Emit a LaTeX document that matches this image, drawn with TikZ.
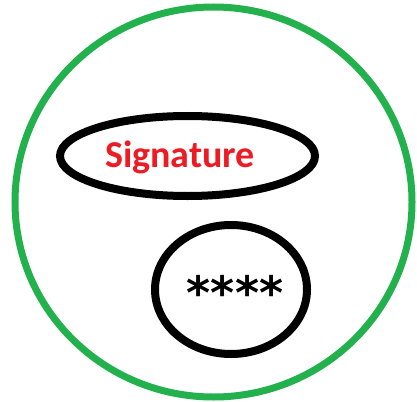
\documentclass[tikz,border=0pt]{standalone}
\usepackage{fontspec}
\setmainfont{Carlito}
\newfontfamily\starfont{DejaVu Sans}
\usetikzlibrary{shapes.geometric}
\definecolor{paintgreen}{RGB}{34,177,76}
\definecolor{paintred}{RGB}{237,28,36}
\begin{document}
\begin{tikzpicture}[x=1pt,y=-1pt,
  ring/.style={ellipse,draw,inner sep=0pt,outer sep=0pt},
  lbl/.style={inner sep=0pt,font=\bfseries}]
\useasboundingbox (0,0) rectangle (417,401);
\node[ring,draw=paintgreen,line width=7pt,minimum width=397pt,minimum height=390pt] (outer) at (213.5,202) {};
\node[ring,draw=black,line width=8pt,minimum width=255pt,minimum height=80pt] (sig) at (187.5,156) {};
\node[ring,draw=black,line width=8pt,minimum width=152pt,minimum height=129pt] (pin) at (231,289.5) {};
\node[lbl,text=paintred,font=\bfseries\fontsize{38}{40}\selectfont,anchor=base] (sigtext) at (180,167) {Signature};
\node[lbl,text=black,font=\starfont\bfseries\fontsize{46}{50}\selectfont] (pintext) at (235,292) {****};
\end{tikzpicture}
\end{document}
